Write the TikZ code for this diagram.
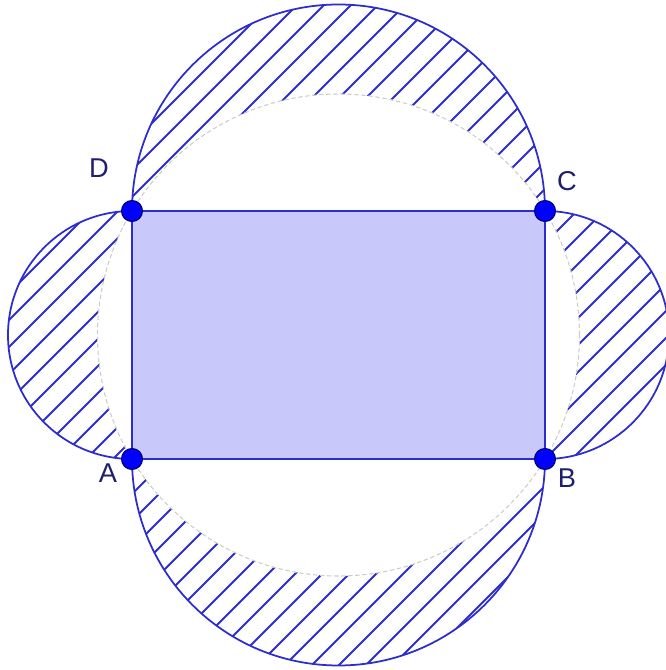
\documentclass[tikz,border=0pt]{standalone}
\usepackage{fontspec}
\setmainfont{Liberation Sans}
\definecolor{lineblue}{RGB}{45,45,205}
\definecolor{fillblue}{RGB}{200,200,250}
\definecolor{labelblue}{RGB}{30,30,110}
\tikzset{
  hatch/.style={draw=lineblue, line width=1.1pt},
  rim/.style={draw=lineblue, line width=1pt},
  circum/.style={draw=gray!40, line width=0.6pt, dash pattern=on 2.5pt off 1.5pt},
  vertex/.style={circle, fill=blue, draw=blue!40!black, line width=0.6pt, inner sep=0pt, minimum size=0.42cm},
  vlabel/.style={text=labelblue, font=\fontsize{15.5}{18}\selectfont, inner sep=0pt}
}
\begin{document}
\begin{tikzpicture}[x=0.02cm,y=0.02cm]
\useasboundingbox (0,0) rectangle (666,670);
% corners and centre
\coordinate (pA) at (132,211);
\coordinate (pB) at (545,211);
\coordinate (pC) at (545,459);
\coordinate (pD) at (132,459);
\coordinate (pO) at (338.5,335);
% rectangle
\fill[fillblue] (pA) -- (pB) -- (pC) -- (pD) -- cycle;
% hatched lunes
\begin{scope}
\clip (pD) arc[start angle=180,end angle=0,radius=206.5] arc[start angle=30.98,end angle=149.02,radius=241] -- cycle;
\foreach \k in {-692,-665,...,685} \draw[hatch] (\k,0) -- ++(700,700);
\end{scope}
\begin{scope}
\clip (pB) arc[start angle=-90,end angle=90,radius=124] arc[start angle=30.98,end angle=-30.98,radius=241] -- cycle;
\foreach \k in {-692,-665,...,685} \draw[hatch] (\k,0) -- ++(700,700);
\end{scope}
\begin{scope}
\clip (pB) arc[start angle=0,end angle=-180,radius=206.5] arc[start angle=-149.02,end angle=-30.98,radius=241] -- cycle;
\foreach \k in {-692,-665,...,685} \draw[hatch] (\k,0) -- ++(700,700);
\end{scope}
\begin{scope}
\clip (pD) arc[start angle=90,end angle=270,radius=124] arc[start angle=210.98,end angle=149.02,radius=241] -- cycle;
\foreach \k in {-692,-665,...,685} \draw[hatch] (\k,0) -- ++(700,700);
\end{scope}
% semicircles on the sides
\draw[rim] (pD) arc[start angle=180,end angle=0,radius=206.5];
\draw[rim] (pB) arc[start angle=-90,end angle=90,radius=124];
\draw[rim] (pB) arc[start angle=0,end angle=-180,radius=206.5];
\draw[rim] (pD) arc[start angle=90,end angle=270,radius=124];
% circumscribed circle
\draw[circum] (pO) circle[radius=241];
\draw[rim] (pA) -- (pB) -- (pC) -- (pD) -- cycle;
% vertices
\node[vertex] (A) at (pA) {};
\node[vertex] (B) at (pB) {};
\node[vertex] (C) at (pC) {};
\node[vertex] (D) at (pD) {};
\node[vlabel] (labA) at (108,197) {A};
\node[vlabel] (labB) at (567,192) {B};
\node[vlabel] (labC) at (567,489) {C};
\node[vlabel] (labD) at (99,502) {D};
\end{tikzpicture}
\end{document}
